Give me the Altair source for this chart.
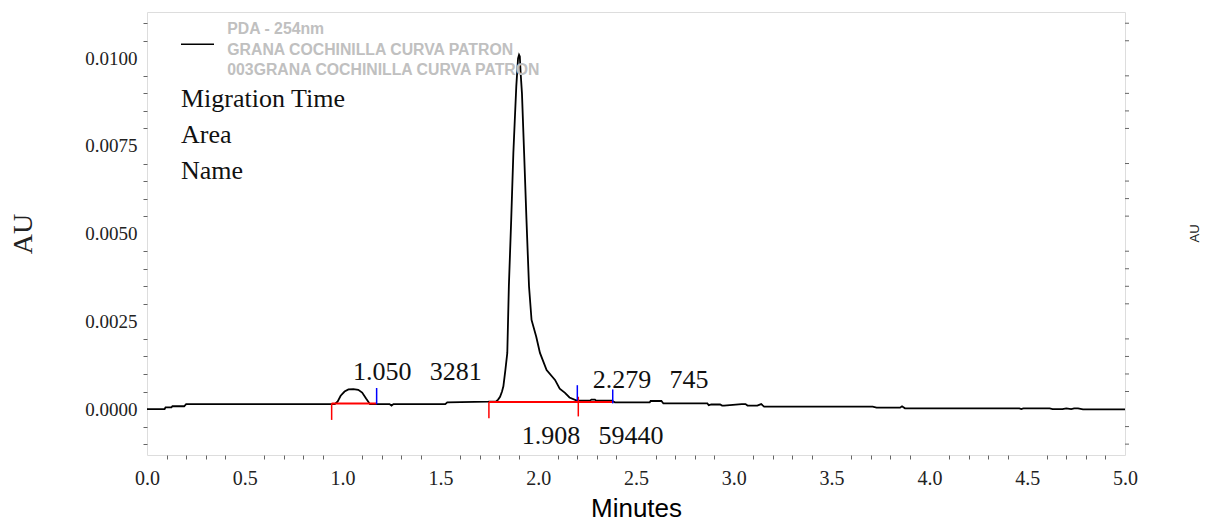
import altair as alt
import pandas as pd

# ---- electropherogram trace (minutes, AU) ----
time_min = [0.000, 0.090, 0.095, 0.125, 0.130, 0.190, 0.200, 0.960, 0.975, 0.990,
            1.010, 1.030, 1.055, 1.080, 1.100, 1.120, 1.140, 1.240, 1.250, 1.260,
            1.525, 1.535, 1.745, 1.785, 1.795, 1.805, 1.815, 1.822, 1.832, 1.842,
            1.850, 1.862, 1.873, 1.880, 1.888, 1.897, 1.902, 1.906, 1.910, 1.917,
            1.928, 1.940, 1.953, 1.966, 1.990, 2.009, 2.043, 2.086, 2.110, 2.137,
            2.160, 2.197, 2.265, 2.272, 2.290, 2.296, 2.376, 2.392, 2.570, 2.575,
            2.630, 2.640, 2.865, 2.872, 2.885, 2.930, 2.940, 2.950, 3.040, 3.060,
            3.070, 3.120, 3.140, 3.155, 3.710, 3.730, 3.850, 3.860, 3.875, 4.460,
            4.470, 4.480, 4.615, 4.630, 4.680, 4.700, 4.725, 4.740, 4.760, 4.785,
            5.000]
au = [0.00000, 0.00000, 0.00005, 0.00005, 0.00008, 0.00008, 0.00014, 0.00014, 0.00022, 0.00038,
      0.00050, 0.00056, 0.00057, 0.00055, 0.00047, 0.00030, 0.00014, 0.00014, 0.00010, 0.00014,
      0.00014, 0.00019, 0.00021, 0.00022, 0.00027, 0.00035, 0.00050, 0.00065, 0.00110, 0.00160,
      0.00350, 0.00540, 0.00730, 0.00820, 0.00920, 0.01000, 0.01010, 0.01005, 0.00960, 0.00900,
      0.00730, 0.00540, 0.00350, 0.00254, 0.00206, 0.00160, 0.00111, 0.00083, 0.00058, 0.00046,
      0.00033, 0.00024, 0.00024, 0.00027, 0.00027, 0.00024, 0.00024, 0.00019, 0.00019, 0.00023,
      0.00023, 0.00016, 0.00016, 0.00011, 0.00013, 0.00013, 0.00010, 0.00010, 0.00014, 0.00014,
      0.00010, 0.00010, 0.00014, 0.00007, 0.00007, 0.00004, 0.00004, 0.00008, 0.00002, 0.00002,
      0.00000, 0.00002, 0.00002, 0.00000, 0.00000, 0.00002, 0.00000, 0.00002, 0.00002, -0.00001,
      -0.00001]

# ---- integration marks ----
base_start = [0.944, 1.748]
base_end = [1.174, 2.384]
base_level = [0.00016, 0.00020]

drop_x = [0.944, 1.748, 2.205]
drop_top = [0.00016, 0.00020, 0.00035]
drop_bottom = [-0.00031, -0.00026, -0.00021]

blue_x = [1.174, 2.200, 2.381]
blue_top = [0.00060, 0.00068, 0.00056]
blue_bottom = [0.00014, 0.00024, 0.00016]

# ---- peak labels ----
peak_time = [1.050, 2.279, 1.908]
peak_area = [3281, 745, 59440]
label_x = [1.053, 2.279, 1.916]
label_y = [0.00083, 0.00060, -0.00101]

legend_lines = ["PDA - 254nm", "GRANA COCHINILLA CURVA PATRON",
                "003GRANA COCHINILLA CURVA PATRON"]
info_lines = ["Migration Time", "Area", "Name"]

x_ticks = [round(i * 0.1, 1) for i in range(51)]
y_ticks = [round(-0.001 + i * 0.0005, 4) for i in range(25)]
y_minor = [v for v in y_ticks if abs(v / 0.0025 - round(v / 0.0025)) > 1e-6]

X_DOMAIN = [0, 5]
Y_DOMAIN = [-0.00131, 0.01132]

trace = pd.DataFrame({"t": time_min, "au": au})
bases = pd.DataFrame({"t": base_start, "t2": base_end, "au": base_level})
drops = pd.DataFrame({"t": drop_x, "au": drop_top, "au2": drop_bottom})
blues = pd.DataFrame({"t": blue_x, "au": blue_top, "au2": blue_bottom})
labels = pd.DataFrame({
    "t": label_x, "au": label_y,
    "label": [f"{t:.3f}\u00a0\u00a0\u2009{a}" for t, a in zip(peak_time, peak_area)],
})
right_ticks = pd.DataFrame({"au": y_minor})

x_test = "abs(datum.value*2 - round(datum.value*2)) < 1e-6"
y_test = "abs(datum.value/0.0025 - round(datum.value/0.0025)) < 1e-6"

xscale = alt.Scale(domain=X_DOMAIN, nice=False, zero=False)
yscale = alt.Scale(domain=Y_DOMAIN, nice=False, zero=False)

x_axis = alt.Axis(
    values=x_ticks, labelExpr=f"{x_test} ? format(datum.value, '.1f') : ''",
    tickOpacity={"condition": {"test": x_test, "value": 0}, "value": 1},
    grid=False, domain=False, tickSize=4, tickColor="#666",
    labelFont="Liberation Serif", labelFontSize=20, labelColor="#222",
    labelPadding=9, labelOverlap=False, labelFlush=False,
    title="Minutes", titleFont="Liberation Sans", titleFontSize=26,
    titleFontWeight="normal", titleColor="#000", titlePadding=7,
)
y_axis = alt.Axis(
    values=y_ticks, labelExpr=f"{y_test} ? format(datum.value, '.4f') : ''",
    tickOpacity={"condition": {"test": y_test, "value": 0}, "value": 1},
    grid=False, domain=False, tickSize=4, tickColor="#666",
    labelFont="Liberation Serif", labelFontSize=19, labelColor="#222",
    labelPadding=6, labelOverlap=False, labelFlush=False,
    title="AU", titleFont="Liberation Serif", titleFontSize=28,
    titleFontWeight="normal", titleColor="#222", titlePadding=47,
)

X = alt.X("t:Q", scale=xscale, axis=x_axis)
Y = alt.Y("au:Q", scale=yscale, axis=y_axis)

line = alt.Chart(trace).mark_line(color="black", strokeWidth=1.8, interpolate="linear").encode(
    x=X, y=Y,
)
red_base = alt.Chart(bases).mark_rule(color="#ff0000", strokeWidth=2).encode(
    x=X, x2="t2:Q", y=Y,
)
red_drop = alt.Chart(drops).mark_rule(color="#ff0000", strokeWidth=1.5).encode(
    x=X, y=Y, y2="au2:Q",
)
blue_tick = alt.Chart(blues).mark_rule(color="#0000ff", strokeWidth=1.5).encode(
    x=X, y=Y, y2="au2:Q",
)
peak_text = alt.Chart(labels).mark_text(
    font="Liberation Serif", fontSize=26, align="left", baseline="alphabetic", color="#111"
).encode(x=X, y=Y, text="label:N")

# right-hand axis ticks (same minor positions as the left axis)
right_axis = alt.Chart(right_ticks).mark_rule(color="#666", strokeWidth=1).encode(
    x=alt.value(978), x2=alt.value(982), y=Y,
)

one = alt.Data(values=[{"k": 1}])
right_title = alt.Chart(one).mark_text(
    font="Liberation Sans", fontSize=13, color="#222", angle=270,
    align="center", baseline="alphabetic",
).encode(x=alt.value(1051.5), y=alt.value(221.5), text=alt.value("AU"))
legend_line = alt.Chart(one).mark_rule(color="black", strokeWidth=1.5).encode(
    x=alt.value(34), x2=alt.value(67), y=alt.value(32.3),
)
legend_text = alt.Chart(one).mark_text(
    font="Liberation Sans", fontSize=15.8, fontWeight="bold", color="#c0c0c0",
    align="left", baseline="alphabetic", lineHeight=20.5,
).encode(x=alt.value(80.3), y=alt.value(22), text=alt.value(legend_lines))
info_text = alt.Chart(one).mark_text(
    font="Liberation Serif", fontSize=26, color="#111",
    align="left", baseline="alphabetic", lineHeight=36.2,
).encode(x=alt.value(34), y=alt.value(94.7), text=alt.value(info_lines))

chart = alt.layer(
    line, red_base, red_drop, blue_tick, peak_text, right_axis, right_title,
    legend_line, legend_text, info_text
).properties(
    width=978, height=443,
    autosize=alt.AutoSizeParams(type="none"),
    padding={"left": 139, "top": 4, "right": 75, "bottom": 68},
).configure_view(stroke="black", strokeWidth=1.3).configure(background="white")

chart.save("out.html", embed_options={"renderer": "svg", "actions": False})
